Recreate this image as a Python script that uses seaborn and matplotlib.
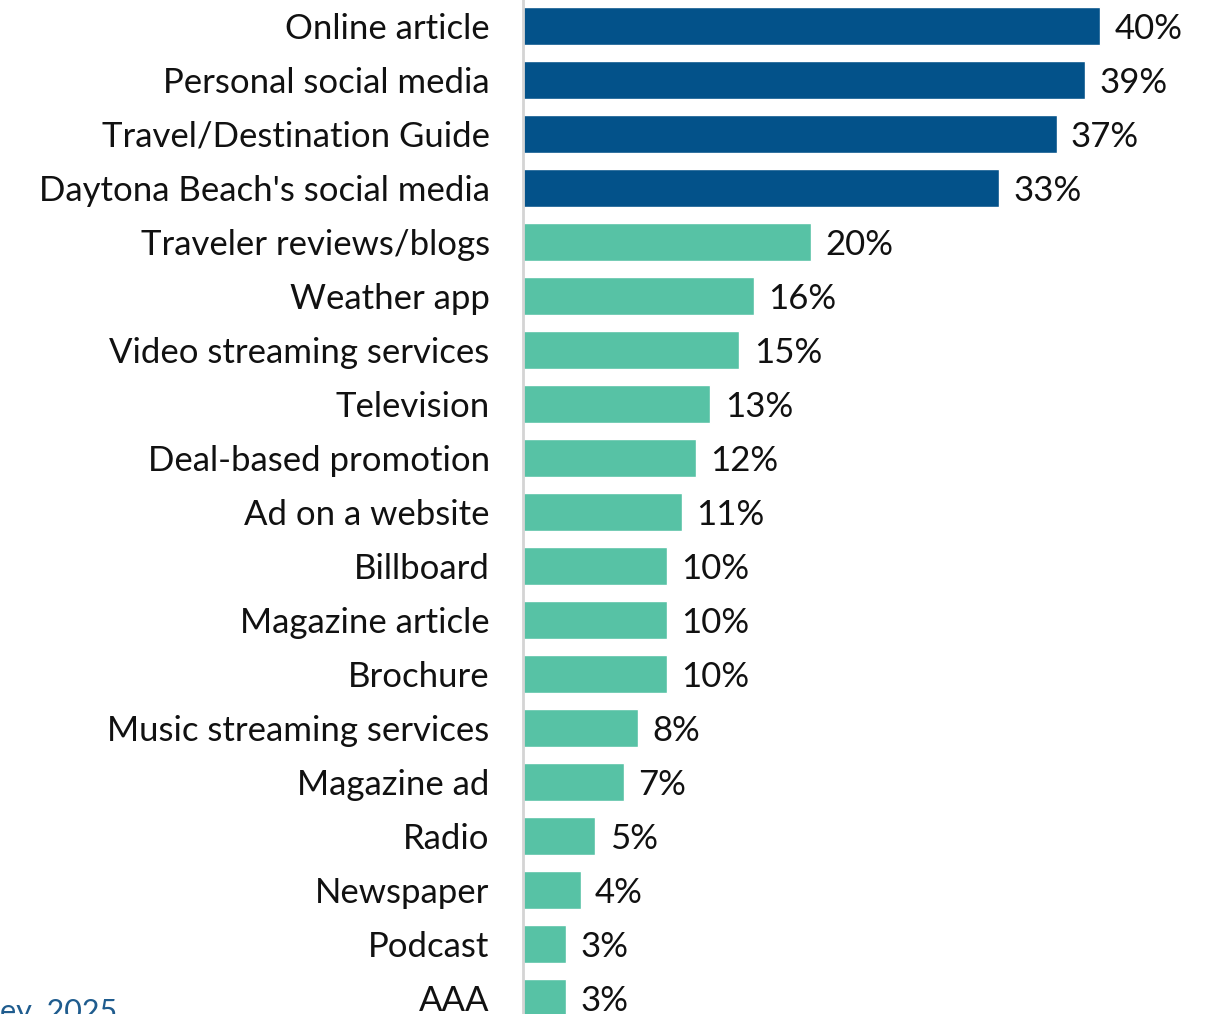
import matplotlib
matplotlib.use("Agg")
import matplotlib.pyplot as plt
import seaborn as sns
import pandas as pd

categories = [
    "Online article", "Personal social media", "Travel/Destination Guide",
    "Daytona Beach's social media", "Traveler reviews/blogs", "Weather app",
    "Video streaming services", "Television", "Deal-based promotion",
    "Ad on a website", "Billboard", "Magazine article", "Brochure",
    "Music streaming services", "Magazine ad", "Radio", "Newspaper",
    "Podcast", "AAA",
]
values = [40, 39, 37, 33, 20, 16, 15, 13, 12, 11, 10, 10, 10, 8, 7, 5, 4, 3, 3]
groups = ["top"] * 4 + ["other"] * 15
palette = {"top": "#03528A", "other": "#57C2A5"}

df = pd.DataFrame({"source": categories, "share": values, "group": groups})

sns.set_theme(style="white")
plt.rcParams["font.family"] = ["Lato", "DejaVu Sans"]

FS = 25

fig = plt.figure(figsize=(12.16, 10.14), dpi=100)
ax = fig.add_axes([523 / 1216, 0.0, 1 - 523 / 1216, 1.0])

sns.barplot(data=df, x="share", y="source", hue="group", palette=palette,
            dodge=False, legend=False, width=0.7, saturation=1, ax=ax)

ax.set_xlim(0, 48.06)
ax.set_ylim(18.296, -0.481)
ax.set_xlabel("")
ax.set_ylabel("")
ax.set_xticks([])
ax.tick_params(axis="y", length=0, pad=24, labelsize=FS, labelcolor="#111111")
for s in ["top", "right", "bottom"]:
    ax.spines[s].set_visible(False)
ax.spines["left"].set_color("#d4d4d4")
ax.spines["left"].set_linewidth(2)

for i, v in enumerate(values):
    ax.text(v + 1.0, i + 0.06, f"{v}%", va="center", ha="left", fontsize=FS,
            color="#111111")

fig.text(0.0, -0.012, "ey, 2025", color="#1F5C8E", fontsize=22, ha="left",
         va="bottom")

fig.savefig("out.png", dpi=100)
